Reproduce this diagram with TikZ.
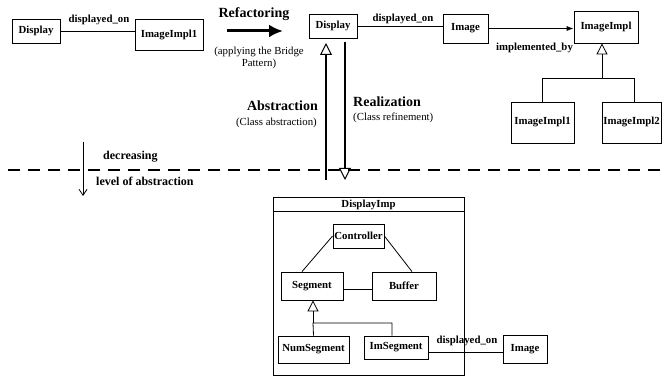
\documentclass[tikz,border=0pt]{standalone}
\usepackage{fontspec}
\setmainfont{Liberation Serif}
\usetikzlibrary{arrows.meta}
\tikzset{
  box/.style={draw, line width=0.8pt, inner sep=0pt, font=\fontsize{10.8}{12}\selectfont\bfseries},
  lbl/.style={inner sep=0pt, font=\fontsize{10.8}{12}\selectfont\bfseries},
  big/.style={inner sep=0pt, font=\fontsize{14}{16}\selectfont\bfseries},
  small/.style={inner sep=0pt, font=\fontsize{10.8}{12}\selectfont},
  conn/.style={line width=0.8pt},
  inh/.style={line width=0.8pt, -{Triangle[open, length=11pt, width=11pt]}},
  bigtri/.style={line width=2pt, -{Triangle[open, length=12pt, width=12pt, line width=1pt]}},
}
\begin{document}
\begin{tikzpicture}[x=1pt, y=-1pt]
\useasboundingbox (0,0) rectangle (662,377);

% left original design
\node[box, minimum width=48, minimum height=24] (d1) at (36,31) {Display};
\node[box, minimum width=68, minimum height=31] (ii1a) at (169,34.5) {ImageImpl1};
\draw[conn] (d1.east) -- (d1.east -| ii1a.west);
\node[lbl] (l1) at (99,20) {displayed\_on};

% refactoring arrow
\node[big] (refac) at (254,14) {Refactoring};
\coordinate (ra) at (227,31);
\coordinate (rb) at (283,31);
\draw[line width=3pt, -{Latex[length=14pt, width=13pt]}] (ra) -- (rb);
\node[small, align=center] (apply) at (259,58) {(applying the Bridge\\Pattern)};

% bridge design
\node[box, minimum width=48, minimum height=24] (d2) at (333,26) {Display};
\node[box, minimum width=45, minimum height=29] (img2) at (465.5,28.5) {Image};
\draw[conn] (d2.east) -- (d2.east -| img2.west);
\node[lbl] (l2) at (403,19) {displayed\_on};
\node[box, minimum width=64, minimum height=32] (impl) at (606,27) {\raisebox{3pt}{ImageImpl}};
\draw[conn, -{Latex[length=7pt, width=5pt]}] (img2.east) -- (img2.east -| impl.west);
\node[lbl] (l3) at (534.5,48) {implemented\_by};

\node[box, minimum width=63, minimum height=41] (ii1b) at (542.5,122.5) {\raisebox{3pt}{ImageImpl1}};
\node[box, minimum width=59, minimum height=41] (ii2b) at (631.5,122.5) {\raisebox{3pt}{ImageImpl2}};
\coordinate (t1) at (602,78);
\draw[conn] (ii1b.north) -- (ii1b.north |- t1) -- (t1 -| 634,0) -- (634,102);
\draw[inh] (t1) -- (t1 |- impl.south);

% dashed separator
\coordinate (da) at (8,170);
\coordinate (db) at (662,170);
\draw[line width=2.5pt, dash pattern=on 12pt off 8pt] (da) -- (db);

% abstraction / realization
\coordinate (ab0) at (326,180);
\coordinate (ab1) at (326,43);
\draw[bigtri] (ab0) -- (ab1);
\coordinate (re0) at (345,42);
\coordinate (re1) at (345,180);
\draw[bigtri] (re0) -- (re1);
\node[big, anchor=east] (abs) at (318,106) {Abstraction};
\node[small, anchor=east] (absc) at (317,123) {(Class abstraction)};
\node[big, anchor=west] (real) at (353,102) {Realization};
\node[small, anchor=west] (realc) at (353,118) {(Class refinement)};

% decreasing level
\coordinate (lv0) at (83,142);
\coordinate (lv1) at (83,196);
\draw[line width=0.8pt, -{Straight Barb[length=6pt, width=8pt]}] (lv0) -- (lv1);
\node[lbl, font=\fontsize{12}{14}\selectfont\bfseries, anchor=west] (dec) at (103,157) {decreasing};
\node[lbl, font=\fontsize{12}{14}\selectfont\bfseries, anchor=west] (lev) at (96,181) {level of abstraction};

% DisplayImp package
\node[draw, line width=0.8pt, minimum width=191, minimum height=178, inner sep=0pt] (pkg) at (368.5,286) {};
\draw[line width=1pt] (pkg.north west |- 0,212) -- (pkg.north east |- 0,212);
\node[lbl] (pkgt) at (368.5,205) {DisplayImp};

\node[box, minimum width=51, minimum height=24] (ctrl) at (358.5,236) {Controller};
\node[box, minimum width=62, minimum height=28] (seg) at (312,286) {\raisebox{2pt}{Segment}};
\node[box, minimum width=64, minimum height=28] (buf) at (404,286) {\raisebox{-2pt}{Buffer}};
\draw[conn] (ctrl.west) -- ([xshift=-10pt]seg.north);
\draw[conn] (ctrl.east) -- ([xshift=8pt]buf.north);
\draw[conn] ([yshift=-3pt]seg.east) -- ([yshift=-3pt]buf.west);

\node[box, minimum width=71, minimum height=27] (nseg) at (313.5,349.5) {\raisebox{-1pt}{NumSegment}};
\node[box, minimum width=64, minimum height=23] (iseg) at (396,347.5) {ImSegment};
\coordinate (t2) at (313,323);
\draw[conn] (nseg.north) -- (t2) -- (t2 -| 392,0) -- ([xshift=-4pt]iseg.north);
\draw[inh] (t2) -- (t2 |- seg.south);

\node[box, minimum width=44, minimum height=28] (img3) at (525,349) {\raisebox{-2pt}{Image}};
\draw[conn] ([yshift=-4.5pt]iseg.east) -- ([yshift=-4.5pt]iseg.east -| img3.west);
\node[lbl] (l4) at (467,341) {displayed\_on};
\end{tikzpicture}
\end{document}
